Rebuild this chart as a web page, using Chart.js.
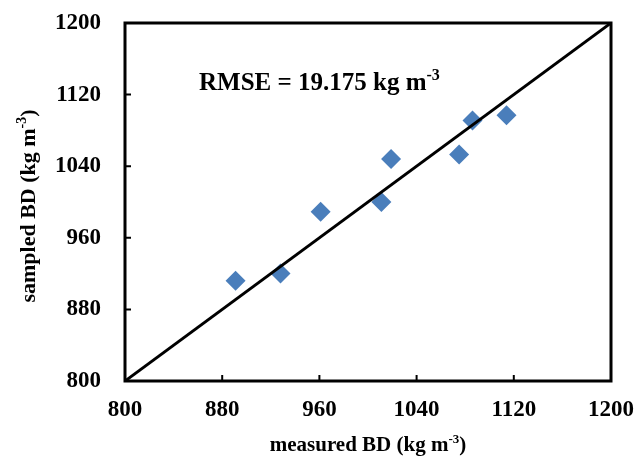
<!DOCTYPE html>
<html>
<head>
<meta charset="utf-8">
<script src="https://cdn.jsdelivr.net/npm/chart.js@4/dist/chart.umd.min.js"></script>
<style>
  html, body { margin: 0; padding: 0; background: #fff; }
  #wrap { width: 640px; height: 462px; }
</style>
</head>
<body>
<div id="wrap"><canvas id="bdChart" width="640" height="462"></canvas></div>
<script>
// bulk density: measured vs sampled (kg m-3)
const measuredBD = [891, 928, 961, 1011, 1019, 1075, 1086, 1114];
const sampledBD  = [912, 920, 989, 1000, 1048, 1053, 1091, 1097];
const oneToOne   = [800, 1200];
const axisMin = 800, axisMax = 1200, axisStep = 80;

const xTitle = [{ t: "measured BD (kg m" }, { t: "-3", sup: true }, { t: ")" }];
const yTitle = [{ t: "sampled BD (kg m" }, { t: "-3", sup: true }, { t: ")" }];
const rmseText = [{ t: "RMSE = 19.175 kg m" }, { t: "-3", sup: true }];

const SERIF = '"Liberation Serif", "Times New Roman", serif';

// text with a raised "-3" exponent
function drawParts(ctx, parts, x, y, size, align) {
  const supSize = Math.round(size * 0.62);
  let total = 0;
  const widths = parts.map(p => {
    ctx.font = "bold " + (p.sup ? supSize : size) + "px " + SERIF;
    const w = ctx.measureText(p.t).width;
    total += w;
    return w;
  });
  let cx = align === "center" ? x - total / 2 : x;
  ctx.textBaseline = "alphabetic";
  ctx.textAlign = "left";
  parts.forEach((p, i) => {
    ctx.font = "bold " + (p.sup ? supSize : size) + "px " + SERIF;
    ctx.fillText(p.t, cx, p.sup ? y - size * 0.4 : y);
    cx += widths[i];
  });
}

const framePlugin = {
  id: "frame",
  afterDatasetsDraw(chart) {
    const { ctx, chartArea: a, scales } = chart;
    ctx.save();
    ctx.strokeStyle = "#000";
    ctx.lineWidth = 2;
    // inward tick marks
    for (let v = axisMin + axisStep; v < axisMax; v += axisStep) {
      const px = scales.x.getPixelForValue(v);
      const py = scales.y.getPixelForValue(v);
      ctx.beginPath();
      ctx.moveTo(px, a.bottom); ctx.lineTo(px, a.bottom - 6);
      ctx.moveTo(a.left, py); ctx.lineTo(a.left + 6, py);
      ctx.stroke();
    }
    ctx.lineWidth = 3;
    ctx.strokeRect(a.left, a.top, a.right - a.left, a.bottom - a.top);
    ctx.restore();
  },
  afterDraw(chart) {
    const { ctx, chartArea: a } = chart;
    ctx.save();
    ctx.fillStyle = "#000";
    drawParts(ctx, rmseText, 199, 90, 25, "left");
    drawParts(ctx, xTitle, (a.left + a.right) / 2, 451, 21, "center");
    ctx.translate(35, 206);
    ctx.rotate(-Math.PI / 2);
    drawParts(ctx, yTitle, 0, 0, 22, "center");
    ctx.restore();
  }
};

const tickFont = { family: SERIF, size: 23, weight: "bold" };
const plainTick = v => String(v);
// invisible tick marks give the label gap without padding the chart area
const hiddenTicks = len => ({
  display: true, drawOnChartArea: false, drawTicks: true,
  tickLength: len, color: "rgba(0,0,0,0)"
});

new Chart(document.getElementById("bdChart"), {
  type: "scatter",
  data: {
    datasets: [
      {
        type: "line",
        data: oneToOne.map(v => ({ x: v, y: v })),
        borderColor: "#000",
        borderWidth: 3,
        pointRadius: 0,
        order: 0
      },
      {
        data: measuredBD.map((m, i) => ({ x: m, y: sampledBD[i] })),
        pointStyle: "rectRot",
        pointRadius: 10,
        pointHoverRadius: 10,
        backgroundColor: "#4a7ebb",
        borderColor: "#4a7ebb",
        borderWidth: 0,
        order: 1
      }
    ]
  },
  options: {
    responsive: false,
    animation: false,
    layout: { padding: { left: 0, right: 29, top: 23, bottom: 0 } },
    plugins: { legend: { display: false }, tooltip: { enabled: false } },
    scales: {
      x: {
        type: "linear",
        min: axisMin, max: axisMax,
        ticks: { stepSize: axisStep, color: "#000", font: tickFont, padding: 0, callback: plainTick },
        grid: hiddenTicks(15),
        border: { display: false },
        afterFit: s => { s.height = 81; }
      },
      y: {
        type: "linear",
        min: axisMin, max: axisMax,
        ticks: { stepSize: axisStep, color: "#000", font: tickFont, padding: 0, callback: plainTick },
        grid: hiddenTicks(24),
        border: { display: false },
        afterFit: s => { s.width = 125; }
      }
    }
  },
  plugins: [framePlugin]
});
</script>
</body>
</html>
